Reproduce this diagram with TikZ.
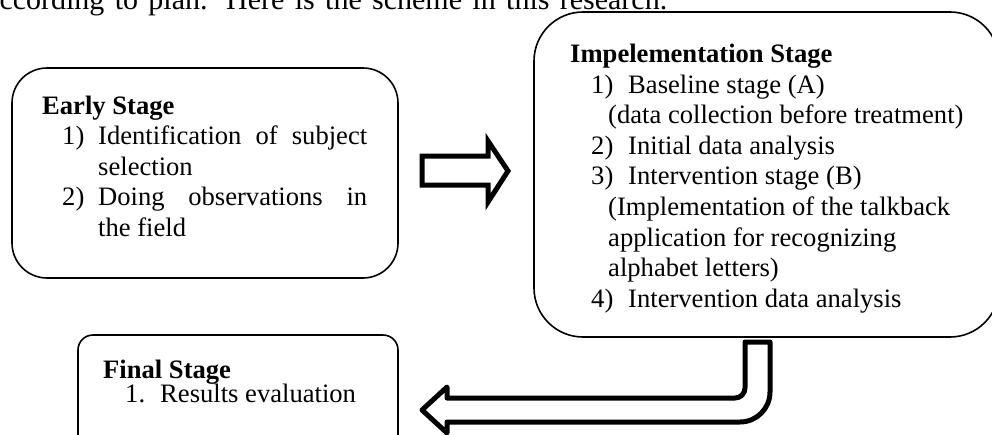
\documentclass[tikz,border=0pt]{standalone}
\usepackage{fontspec}
\setmainfont{Liberation Serif}
\begin{document}
\begin{tikzpicture}[x=1pt,y=-1pt,
  box/.style={draw=black, line width=1.6pt, inner sep=0pt},
  fat/.style={draw=black, line width=5pt, fill=white},
  txt/.style={anchor=base west, inner sep=0pt, font=\fontsize{26.6}{30}\selectfont},
  hd/.style={anchor=base west, inner sep=0pt, font=\fontsize{26.6}{30}\selectfont\bfseries},
]
\useasboundingbox (0,0) rectangle (992,434);
\clip (0,0) rectangle (992,434);

% intro line (cut at top)
\node[anchor=base west, inner sep=0pt, font=\fontsize{30}{36}\selectfont] (intro) at (-14,9) {\hbox to 681pt{according to plan. Here is the scheme in this research.}};

% boxes
\node[box, rounded corners=35pt, minimum width=386pt, minimum height=210pt] (early) at (205,173) {};
\node[box, rounded corners=49pt, minimum width=465pt, minimum height=325pt] (impl) at (766.5,174.5) {};
\node[box, rounded corners=15pt, minimum width=320pt, minimum height=125pt] (final) at (238,397.5) {};

% arrows
\draw[fat, line join=miter] (422,156) -- (488,156) -- (488,141) -- (508,171) -- (488,202) -- (488,185) -- (422,185) -- cycle;
\draw[fat, line join=round] (745,342) -- (770,342) -- (770,392) arc[start angle=0,end angle=90,radius=30] -- (447,422) -- (447,433) -- (422,410) -- (447,387) -- (447,398) -- (735,398) arc[start angle=90,end angle=0,radius=10] -- cycle;

% early text
\node[hd] (e0) at (42,114) {Early Stage};
\node[txt] (e1n) at (62,144.6) {1)};
\node[txt] (e1) at (98,144.6) {\hbox to 269pt{Identification\hfill of\hfill subject}};
\node[txt] (e1b) at (98,175.2) {selection};
\node[txt] (e2n) at (62,205.8) {2)};
\node[txt] (e2) at (98,205.8) {\hbox to 269pt{Doing\hfill observations\hfill in}};
\node[txt] (e2b) at (98,236.4) {the field};

% implementation text
\node[hd] (i0) at (570,62.5) {Impelementation Stage};
\node[txt] (i1n) at (591,93.1) {1)};
\node[txt] (i1) at (628,93.1) {Baseline stage (A)};
\node[txt] (i1b) at (608,123.7) {(data collection before treatment)};
\node[txt] (i2n) at (591,154.3) {2)};
\node[txt] (i2) at (628,154.3) {Initial data analysis};
\node[txt] (i3n) at (591,184.9) {3)};
\node[txt] (i3) at (628,184.9) {Intervention stage (B)};
\node[txt] (i3b) at (608,215.5) {(Implementation of the talkback};
\node[txt] (i3c) at (608,246.1) {application for recognizing};
\node[txt] (i3d) at (608,276.7) {alphabet letters)};
\node[txt] (i4n) at (591,307.3) {4)};
\node[txt] (i4) at (628,307.3) {Intervention data analysis};

% final text
\node[hd] (f0) at (103,378) {Final Stage};
\node[txt] (f1n) at (125,402) {1.};
\node[txt] (f1) at (160,402) {Results evaluation};
\end{tikzpicture}
\end{document}
